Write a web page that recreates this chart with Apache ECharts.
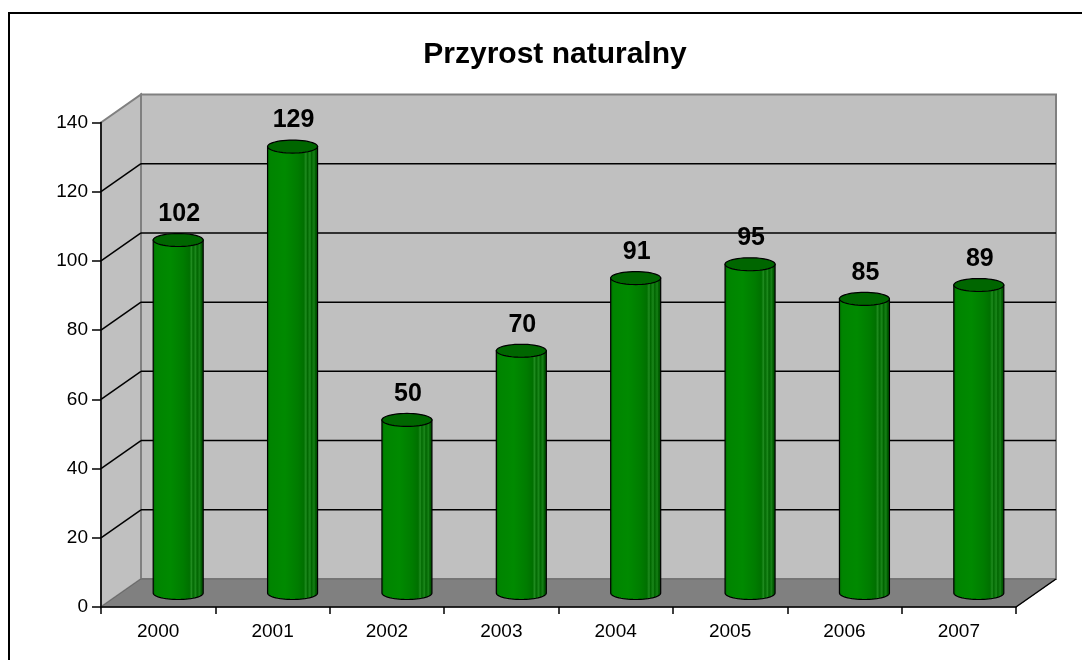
<!DOCTYPE html>
<html>
<head>
<meta charset="utf-8">
<title>Przyrost naturalny</title>
<script src="https://cdn.jsdelivr.net/npm/echarts@6/dist/echarts.min.js"></script>
<style>
html,body{margin:0;padding:0;background:#fff;}
#main{width:1082px;height:660px;}
</style>
</head>
<body>
<div id="main"></div>
<script>
// dane
var lata = ['2000','2001','2002','2003','2004','2005','2006','2007'];
var przyrost = [102, 129, 50, 70, 91, 95, 85, 89];
var podzialkaY = [0, 20, 40, 60, 80, 100, 120, 140];

var FONT = "'Liberation Sans', Arial, sans-serif";
// przesuniecie glebokosci (efekt 3D)
var DX = 40, DY = -28;

var myChart = echarts.init(document.getElementById('main'));

function punktyElipsy(cx, cy, rx, ry, a0, a1, n){
	var pts = [];
	for (var k = 0; k <= n; k++){
		var t = a0 + (a1 - a0) * k / n;
		pts.push([cx + rx * Math.cos(t), cy + ry * Math.sin(t)]);
	}
	return pts;
}

// sciany i podloga
function rysujSciany(params, api){
	var bw = api.size([1, 0])[0];
	var L = api.coord([0, 0])[0] - bw / 2;
	var R = api.coord([lata.length - 1, 0])[0] + bw / 2;
	var y0 = api.coord([0, 0])[1];
	var yMax = api.coord([0, podzialkaY[podzialkaY.length - 1]])[1];
	var ch = [];
	// tylna sciana
	ch.push({type:'polygon', shape:{points:[[L+DX,yMax+DY],[R+DX,yMax+DY],[R+DX,y0+DY],[L+DX,y0+DY]]},
		style:{fill:'#c0c0c0', stroke:'#808080', lineWidth:2}});
	// boczna sciana
	ch.push({type:'polygon', shape:{points:[[L,yMax],[L+DX,yMax+DY],[L+DX,y0+DY],[L,y0]]},
		style:{fill:'#c0c0c0', stroke:'#808080', lineWidth:2}});
	// podloga
	ch.push({type:'polygon', shape:{points:[[L,y0],[L+DX,y0+DY],[R+DX,y0+DY],[R,y0]]},
		style:{fill:'#808080', stroke:'#6a6a6a', lineWidth:1}});
	ch.push({type:'line', shape:{x1:R, y1:y0, x2:R+DX, y2:y0+DY}, style:{stroke:'#000', lineWidth:1.5}});
	// linie siatki
	for (var i = 1; i < podzialkaY.length - 1; i++){
		var yv = api.coord([0, podzialkaY[i]])[1];
		ch.push({type:'line', shape:{x1:L+DX, y1:yv+DY, x2:R+DX, y2:yv+DY}, style:{stroke:'#000', lineWidth:1.5}});
		ch.push({type:'line', shape:{x1:L, y1:yv, x2:L+DX, y2:yv+DY}, style:{stroke:'#000', lineWidth:1.5}});
	}
	return {type:'group', children:ch};
}

var gradient = new echarts.graphic.LinearGradient(0, 0, 1, 0, [
	{offset:0, color:'#006400'},
	{offset:0.06, color:'#008400'},
	{offset:0.35, color:'#008a00'},
	{offset:0.6, color:'#007c00'},
	{offset:0.72, color:'#007000'},
	{offset:0.76, color:'#208c20'},
	{offset:0.79, color:'#006800'},
	{offset:0.84, color:'#1c881c'},
	{offset:0.87, color:'#006400'},
	{offset:0.92, color:'#168016'},
	{offset:0.95, color:'#005c00'},
	{offset:1, color:'#004c00'}
]);

// walce
function rysujWalec(params, api){
	var i = api.value(0), v = api.value(1);
	var c = api.coord([i, v]);
	var b = api.coord([i, 0]);
	var cx = c[0] + DX / 2;
	var topY = c[1] + DY / 2;
	var baseY = b[1] + DY / 2;
	var rx = 25, ry = 6.5;
	var body = [[cx - rx, topY]].concat(punktyElipsy(cx, baseY, rx, ry, Math.PI, 0, 30));
	body.push([cx + rx, topY]);
	var gora = punktyElipsy(cx, topY, rx, ry, 0, Math.PI * 2, 48);
	return {type:'group', children:[
		{type:'polygon', shape:{points:body}, style:{fill:gradient, stroke:'#000', lineWidth:1.2}},
		{type:'polygon', shape:{points:gora}, style:{fill:'#006600', stroke:'#000', lineWidth:1.2}},
		{type:'text', style:{text:String(v), x:cx + 1, y:topY - 26, align:'center', verticalAlign:'middle',
			font:'bold 25px ' + FONT, fill:'#000'}}
	]};
}

var option = {
	animation:false,
	backgroundColor:'#fff',
	title:{
		text:'Przyrost naturalny',
		left:550,
		textAlign:'center',
		top:35,
		textStyle:{fontFamily:FONT, fontSize:30, fontWeight:'bold', color:'#000'}
	},
	graphic:[
		{type:'rect', shape:{x:9, y:13, width:1200, height:800}, style:{fill:'none', stroke:'#000', lineWidth:2}, z:100}
	],
	grid:{left:101, top:122.5, right:66, bottom:53},
	xAxis:{
		type:'category',
		data:lata,
		boundaryGap:true,
		z:10,
		axisLine:{lineStyle:{color:'#000', width:1.5}},
		axisTick:{show:true, length:7, lineStyle:{color:'#000', width:1.5}},
		axisLabel:{fontFamily:FONT, fontSize:19, color:'#000', margin:15},
		splitLine:{show:false}
	},
	yAxis:{
		type:'value',
		min:0, max:140, interval:20,
		z:10,
		axisLine:{show:true, lineStyle:{color:'#000', width:1.5}},
		axisTick:{show:true, length:9, lineStyle:{color:'#000', width:1.5}},
		axisLabel:{fontFamily:FONT, fontSize:19, color:'#000', margin:13},
		splitLine:{show:false}
	},
	series:[
		{
			type:'custom',
			z:1,
			silent:true,
			renderItem:rysujSciany,
			data:[[0, 0]]
		},
		{
			type:'custom',
			z:3,
			renderItem:rysujWalec,
			data:przyrost.map(function(v, i){ return [i, v]; })
		}
	]
};
myChart.setOption(option);
</script>
</body>
</html>
